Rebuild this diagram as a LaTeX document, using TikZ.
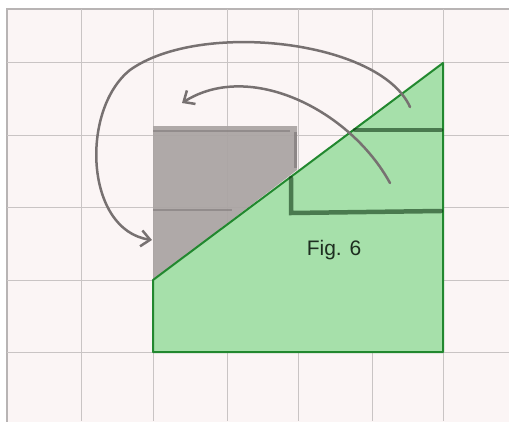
\documentclass[tikz,border=0pt]{standalone}
\usepackage{fontspec}
\setmainfont{Liberation Sans}
\usetikzlibrary{arrows.meta}
\definecolor{paper}{HTML}{FBF5F5}
\definecolor{gridc}{HTML}{C9C4C4}
\definecolor{framec}{HTML}{B8B4B4}
\definecolor{greenfill}{HTML}{A6E0AA}
\definecolor{greenline}{HTML}{22882F}
\definecolor{pencil}{HTML}{777171}
\definecolor{shadegray}{HTML}{ABA5A4}
\definecolor{figtext}{HTML}{1E2E20}
\tikzset{
  gridline/.style={draw=gridc, line width=1pt},
  pencilarrow/.style={draw=pencil, line width=2.5pt, line cap=round,
    -{Straight Barb[length=9pt,width=16pt,line width=2.5pt]}},
  pencilstroke/.style={draw=black!60!greenline, line width=4.5pt, opacity=0.6, line cap=round},
}
\begin{document}
\begin{tikzpicture}[x=1pt,y=-1pt]
\useasboundingbox (0,0) rectangle (509,421);
\fill[white] (0,0) rectangle (509,421);
\fill[paper] (7,9) rectangle (510,422);
\draw[framec, line width=1.5pt] (7,422) -- (7,9) -- (510,9);
% grid
\foreach \x in {81,153,227,298,372,443} \draw[gridline] (\x,9) -- (\x,421);
\foreach \y in {62,135,207,280,352} \draw[gridline] (7,\y) -- (509,\y);
% named corners
\coordinate (tr) at (443,63);
\coordinate (ml) at (153,280);
\coordinate (bl) at (153,352);
\coordinate (br) at (443,352);
% grey moved piece
\fill[shadegray, opacity=0.95] (153,126) -- (297,126) -- (297,170) -- (ml) -- cycle;
\draw[pencil, line width=3pt, opacity=0.6] (295,132) -- (295,168);
\draw[pencil, line width=2pt, opacity=0.5] (153,131) -- (290,131);
\draw[pencil, line width=2.5pt, opacity=0.5] (153,210) -- (232,210);
% green shape
\filldraw[fill=greenfill, draw=greenline, line width=2pt, line join=round] (ml) -- (tr) -- (br) -- (bl) -- cycle;
% pencil lines on green
\draw[pencilstroke] (355,130) -- (441,130);
\draw[pencilstroke] (291,178) -- (291,213) -- (441,211);
% text
\node[text=figtext] (fig) at (334,250) {\fontsize{21pt}{24pt}\selectfont Fig. 6};
% arrows
\coordinate (a1s) at (410,107);
\coordinate (a1e) at (152,240);
\coordinate (a2s) at (390,183);
\coordinate (a2e) at (182,103);
\draw[pencilarrow] (a1s) .. controls (380,40) and (200,20) .. (130,70)
  .. controls (80,110) and (85,230) .. (a1e);
\draw[pencilarrow] (a2s) .. controls (350,110) and (250,60) .. (a2e);
\end{tikzpicture}
\end{document}
